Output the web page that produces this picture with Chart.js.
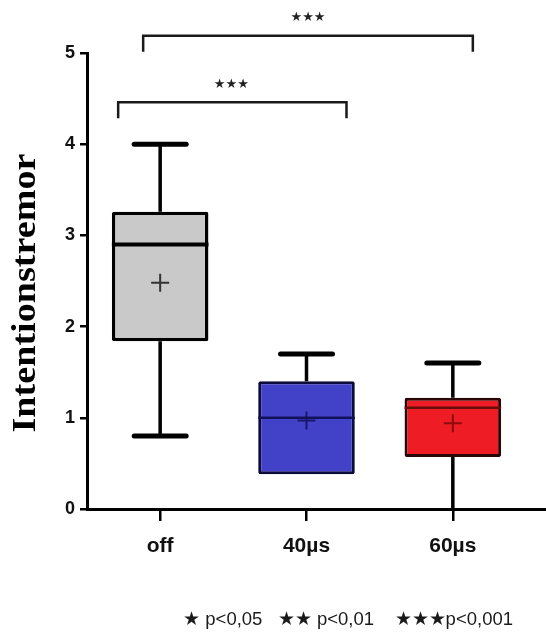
<!DOCTYPE html>
<html lang="de">
<head>
<meta charset="UTF-8">
<title>Intentionstremor</title>
<script src="https://cdn.jsdelivr.net/npm/chart.js"></script>
<style>
  html, body { margin: 0; padding: 0; background: #fff; }
</style>
</head>
<body>
<canvas id="box-chart" width="546" height="632"></canvas>
<script>
// data
const groups = ['off', '40µs', '60µs'];
const whiskerMin = [0.80, 0.38, 0.00];
const quartile1 = [1.84, 0.38, 0.57];
const medians = [2.90, 1.00, 1.11];
const quartile3 = [3.26, 1.40, 1.22];
const whiskerMax = [4.00, 1.70, 1.60];
const means = [2.48, 0.97, 0.94];
const yTicks = [0, 1, 2, 3, 4, 5];

// significance brackets: [from group, to group, label, level]
const comparisons = [[0, 2, '★★★', 5.19], [0, 1, '★★★', 4.46]];
const noteText = '★ p<0,05   ★★ p<0,01    ★★★p<0,001';
const yTitle = 'Intentionstremor';

const fillColors = ['#c9c9c9', '#4242c8', '#ee1c24'];
const edgeColors = ['#000000', '#0c0c3c', '#2a0606'];
const medianColors = ['#000000', '#12125a', '#6a0c0c'];
const meanColors = ['#333333', '#18186a', '#8c0c0c'];

const boxParts = {
  id: 'boxParts',
  afterDatasetsDraw(chart) {
    const ctx = chart.ctx;
    const ys = chart.scales.y;
    const meta = chart.getDatasetMeta(0);
    ctx.save();
    meta.data.forEach((bar, i) => {
      const x = bar.x;
      const half = bar.width / 2;
      const capHalf = 26;
      const yMin = ys.getPixelForValue(whiskerMin[i]);
      const yQ1 = ys.getPixelForValue(quartile1[i]);
      const yQ3 = ys.getPixelForValue(quartile3[i]);
      const yMax = ys.getPixelForValue(whiskerMax[i]);
      const yMed = ys.getPixelForValue(medians[i]);

      // whiskers
      ctx.strokeStyle = '#000';
      ctx.lineCap = 'butt';
      ctx.lineWidth = 3.5;
      ctx.beginPath();
      ctx.moveTo(x, yQ3); ctx.lineTo(x, yMax);
      if (whiskerMin[i] < quartile1[i]) { ctx.moveTo(x, yQ1); ctx.lineTo(x, yMin); }
      ctx.stroke();

      // caps
      ctx.lineCap = 'round';
      ctx.lineWidth = 5;
      ctx.beginPath();
      ctx.moveTo(x - capHalf, yMax); ctx.lineTo(x + capHalf, yMax);
      ctx.stroke();
      if (whiskerMin[i] < quartile1[i]) {
        ctx.lineWidth = whiskerMin[i] === 0 ? 2 : 5;
        ctx.beginPath();
        ctx.moveTo(x - capHalf, yMin); ctx.lineTo(x + capHalf, yMin);
        ctx.stroke();
      }

      // median
      ctx.lineCap = 'butt';
      ctx.strokeStyle = medianColors[i];
      ctx.lineWidth = i === 0 ? 4 : 2.5;
      ctx.beginPath();
      ctx.moveTo(x - half, yMed); ctx.lineTo(x + half, yMed);
      ctx.stroke();
    });
    ctx.restore();
  },
  afterDraw(chart) {
    const ctx = chart.ctx;
    const ys = chart.scales.y;
    const xs = chart.scales.x;
    const area = chart.chartArea;
    ctx.save();

    // x axis runs on to the right edge, on the same pixel row as the axis border
    const axisY = Math.round(xs.top - 1.5) + 1.5;
    ctx.strokeStyle = '#000';
    ctx.lineWidth = 3;
    ctx.beginPath();
    ctx.moveTo(area.right - 3, axisY);
    ctx.lineTo(chart.width, axisY);
    ctx.stroke();

    // brackets
    ctx.strokeStyle = '#1a1a1a';
    ctx.lineWidth = 2.5;
    ctx.fillStyle = '#222';
    ctx.font = 'bold 13px "DejaVu Sans"';
    ctx.textAlign = 'center';
    ctx.textBaseline = 'middle';
    comparisons.forEach(([a, b, label, level], k) => {
      const x1 = xs.getPixelForValue(a) - (k === 0 ? 17 : 42);
      const x2 = xs.getPixelForValue(b) + (k === 0 ? 20 : 40);
      const yb = ys.getPixelForValue(level);
      ctx.beginPath();
      ctx.moveTo(x1, yb + 16);
      ctx.lineTo(x1, yb);
      ctx.lineTo(x2, yb);
      ctx.lineTo(x2, yb + 16);
      ctx.stroke();
      ctx.fillText(label, (x1 + x2) / 2 - (k === 0 ? 0 : 1), yb - 18);
    });

    // y axis title
    ctx.save();
    ctx.translate(26, 293);
    ctx.rotate(-Math.PI / 2);
    ctx.scale(1.06, 0.94);
    ctx.font = 'bold 36px "Liberation Serif"';
    ctx.fillStyle = '#000';
    ctx.fillText(yTitle, 0, 0);
    ctx.restore();

    // significance note
    ctx.font = '18.5px "Liberation Sans"';
    ctx.textAlign = 'right';
    ctx.fillStyle = '#1a1a1a';
    ctx.fillText(noteText, 513, 620);
    ctx.restore();
  }
};

new Chart(document.getElementById('box-chart'), {
  type: 'bar',
  data: {
    labels: groups,
    datasets: [{
      data: groups.map((g, i) => [quartile1[i], quartile3[i]]),
      backgroundColor: fillColors,
      borderColor: edgeColors,
      borderWidth: [3.5, 3, 3],
      borderSkipped: false,
      borderRadius: 2,
      categoryPercentage: 0.66,
      barPercentage: 1,
      order: 2
    }, {
      type: 'line',
      data: means,
      showLine: false,
      pointStyle: 'cross',
      pointRadius: 9,
      pointBorderWidth: 2,
      pointBorderColor: meanColors,
      order: 1
    }]
  },
  options: {
    responsive: false,
    animation: false,
    layout: { padding: { top: 53, right: 20, left: 0, bottom: 0 } },
    plugins: { legend: { display: false }, tooltip: { enabled: false } },
    scales: {
      x: {
        offset: true,
        afterFit(scale) { scale.height = 123; },
        ticks: { color: '#111', padding: 13, font: { family: 'Liberation Sans', size: 21, weight: 'bold' } },
        grid: { offset: false, drawOnChartArea: false, tickLength: 12, color: '#000', lineWidth: 2.5 },
        border: { color: '#000', width: 3 }
      },
      y: {
        min: 0,
        max: 5,
        afterFit(scale) { scale.width = 87; },
        afterBuildTicks(scale) { scale.ticks = yTicks.map(v => ({ value: v })); },
        ticks: { color: '#111', padding: 5, font: { family: 'Liberation Sans', size: 18, weight: 'bold' } },
        grid: { drawOnChartArea: false, tickLength: 7, color: '#000', lineWidth: 2.5 },
        border: { color: '#000', width: 3 }
      }
    }
  },
  plugins: [boxParts]
});
</script>
</body>
</html>
